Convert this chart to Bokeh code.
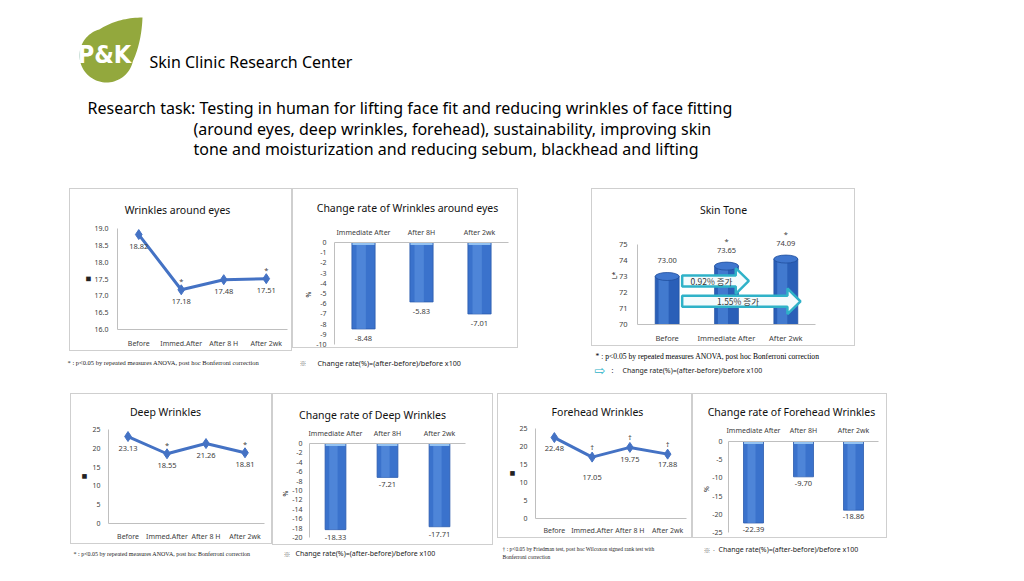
import numpy as np
from bokeh.plotting import figure
from bokeh.models import (Range1d, FactorRange, FixedTicker, LabelSet,
                          ColumnDataSource, Spacer, NumeralTickFormatter)
from bokeh.layouts import row, column
from bokeh.transform import dodge
from bokeh.embed import file_html
from bokeh.resources import INLINE
from bokeh.core.properties import value

# ---------------- data ----------------
line_cats = ["Before", "Immed.After", "After 8 H", "After 2wk"]
rate_cats = ["Immediate After", "After 8H", "After 2wk"]
skin_cats = ["Before", "Immediate After", "After 2wk"]

eye_values = [18.82, 17.18, 17.48, 17.51]
eye_sig = ["", "*", "", "*"]
eye_ticks = [16.0, 16.5, 17.0, 17.5, 18.0, 18.5, 19.0]
eye_rate = [-8.48, -5.83, -7.01]
eye_rate_ticks = [0, -1, -2, -3, -4, -5, -6, -7, -8, -9, -10]

skin_values = [73.00, 73.65, 74.09]
skin_sig = ["", "*", "*"]
skin_ticks = [70, 71, 72, 73, 74, 75]
skin_change = ["0.92% 증가", "1.55% 증가"]

deep_values = [23.13, 18.55, 21.26, 18.81]
deep_sig = ["", "*", "", "*"]
deep_ticks = [0, 5, 10, 15, 20, 25]
deep_rate = [-18.33, -7.21, -17.71]
deep_rate_ticks = [0, -2, -4, -6, -8, -10, -12, -14, -16, -18, -20]

fore_values = [22.48, 17.05, 19.75, 17.88]
fore_sig = ["", "†", "†", "†"]
fore_ticks = [0, 5, 10, 15, 20, 25]
fore_rate = [-22.39, -9.70, -18.86]
fore_rate_ticks = [0, -5, -10, -15, -20, -25]

# ---------------- styles ----------------
SANS = "Noto Sans"
SERIF = "Liberation Serif"
KR = "Noto Sans CJK KR"
TXT = "#404040"
BLUE = "#4472C4"
BAR = "#3A72CC"
BAR_EDGE = "#2C5CAD"
BAR_HI = "#6FA3EA"
BAR_TOP = "#93C2F2"
CYL = "#2A5FB8"
CYL_HI = "#5089DB"
AXIS = "#BFBFBF"
BOX = "#CFCFCF"
TEAL = "#2FB2C8"
BOX_STYLE = {"outline": f"1px solid {BOX}", "outline-offset": "-1px"}


def base_fig(w, h, xr, yr, borders, x_loc="below"):
    l, r, t, b = borders
    p = figure(width=w, height=h, x_range=xr, y_range=yr, x_axis_location=x_loc,
               output_backend="svg", toolbar_location=None, frame_align=False,
               min_border_left=l, min_border_right=r,
               min_border_top=t, min_border_bottom=b)
    p.outline_line_color = None
    p.xgrid.grid_line_color = None
    p.ygrid.grid_line_color = None
    p.background_fill_color = None
    p.border_fill_color = None
    for ax in (p.xaxis[0], p.yaxis[0]):
        ax.major_tick_line_color = None
        ax.minor_tick_line_color = None
        ax.major_tick_out = 0
        ax.major_tick_in = 0
        ax.minor_tick_out = 0
        ax.minor_tick_in = 0
        ax.axis_line_color = AXIS
        ax.major_label_text_font = SANS
        ax.major_label_text_font_size = "7px"
        ax.major_label_text_color = TXT
        ax.axis_label_text_font = SANS
        ax.axis_label_text_font_style = "normal"
        ax.axis_label_text_font_size = "7px"
        ax.axis_label_text_color = "#222222"
    return p


def plain_fig(w, h, x0, x1, y0, y1):
    f = figure(width=w, height=h, x_range=Range1d(x0, x1), y_range=Range1d(y1, y0),
               x_axis_type=None, y_axis_type=None, output_backend="svg",
               toolbar_location=None, min_border=0, frame_align=False)
    f.outline_line_color = None
    f.background_fill_color = None
    f.border_fill_color = None
    return f


def put_text(f, x, y, t, font, size, color="#222222", align="left", style="normal"):
    f.text(x=[x], y=[y], text=[t], text_font=value(font), text_font_size=size,
           text_color=color, text_baseline="middle", text_align=align,
           text_font_style=style)


def boxed(title, w, th, txy, chart):
    tf = plain_fig(w, th, 0, w, 0, th)
    put_text(tf, txy[0], txy[1], title, SANS, "10.5px", "#111111", align="center")
    return column(tf, chart, styles=BOX_STYLE)


def line_panel(w, h, borders, values, sig, ticks, fmt, unit, unit_stand,
               lab_dy, sig_dy, xstand, ystand):
    p = base_fig(w, h, FactorRange(*line_cats), Range1d(ticks[0], ticks[-1]), borders)
    p.yaxis.ticker = FixedTicker(ticks=ticks)
    p.yaxis.formatter = NumeralTickFormatter(format=fmt)
    p.xaxis.major_label_standoff = xstand
    p.yaxis.major_label_standoff = ystand
    p.yaxis.axis_label = unit
    p.yaxis.axis_label_standoff = unit_stand
    p.yaxis.axis_label_text_font = "DejaVu Sans"
    p.yaxis.axis_label_text_font_size = "6px"
    src = ColumnDataSource(dict(x=line_cats, y=values,
                                lab=[f"{v:.2f}" for v in values], sig=sig, dy=lab_dy))
    p.line("x", "y", source=src, line_color=BLUE, line_width=3)
    p.scatter("x", "y", source=src, marker="diamond", size=10,
              fill_color=BLUE, line_color=BLUE)
    p.add_layout(LabelSet(x="x", y="y", text="lab", source=src, y_offset="dy",
                          text_align="center", text_baseline="middle",
                          text_font=value(SANS), text_font_size="7.5px", text_color=TXT))
    p.add_layout(LabelSet(x="x", y="y", text="sig", source=src, y_offset=sig_dy,
                          text_align="center", text_baseline="middle",
                          text_font=value(SANS), text_font_size="7.5px", text_color=TXT))
    return p


def rate_panel(w, h, borders, values, ticks, pad, unit_stand, lab_dy, xstand, ystand):
    p = base_fig(w, h, FactorRange(*rate_cats), Range1d(ticks[-1] - pad, ticks[0]),
                 borders, x_loc="above")
    p.yaxis.ticker = FixedTicker(ticks=ticks)
    p.yaxis.formatter = NumeralTickFormatter(format="0")
    p.yaxis.bounds = (ticks[-1], ticks[0])
    p.xaxis.major_label_standoff = xstand
    p.yaxis.major_label_standoff = ystand
    p.yaxis.axis_label = "%"
    p.yaxis.axis_label_standoff = unit_stand
    src = ColumnDataSource(dict(x=rate_cats, top=values, zero=[0] * len(values),
                                lab=[f"{v:.2f}" for v in values]))
    p.vbar(x="x", top="top", bottom=0, width=0.4, source=src,
           fill_color=BAR, line_color=BAR_EDGE, line_width=0.8)
    p.vbar(x=dodge("x", -0.04, range=p.x_range), top="top", bottom=0, width=0.16,
           source=src, fill_color=BAR_HI, fill_alpha=0.4, line_color=None)
    p.rect(x="x", y="zero", width=0.38, height=5, height_units="screen", source=src,
           fill_color=BAR_TOP, line_color=None)
    p.add_layout(LabelSet(x="x", y="top", text="lab", source=src, y_offset=lab_dy,
                          text_align="center", text_baseline="middle",
                          text_font=value(SANS), text_font_size="7.5px", text_color=TXT))
    return p


def arrow_xy(x0, x1, yc, hl=0.22, bh=0.34, hh=0.8):
    xs = [x0, x1 - hl, x1 - hl, x1, x1 - hl, x1 - hl, x0]
    ys = [yc - bh, yc - bh, yc - hh, yc, yc + hh, yc + bh, yc + bh]
    return xs, ys


def skin_panel():
    p = base_fig(264, 128, FactorRange(*skin_cats),
                 Range1d(skin_ticks[0], skin_ticks[-1] + 1.125), (46, 40, 8, 22))
    p.yaxis.ticker = FixedTicker(ticks=skin_ticks)
    p.yaxis.formatter = NumeralTickFormatter(format="0")
    p.yaxis.bounds = (skin_ticks[0], skin_ticks[-1])
    p.xaxis.major_label_standoff = 8
    p.yaxis.major_label_standoff = 10
    p.xaxis.major_label_text_font_size = "7.5px"
    p.yaxis.major_label_text_font_size = "7.5px"
    p.yaxis.axis_label = "L*"
    p.yaxis.axis_label_standoff = -3
    src = ColumnDataSource(dict(x=skin_cats, top=skin_values,
                                lab=[f"{v:.2f}" for v in skin_values], sig=skin_sig))
    base = skin_ticks[0]
    p.vbar(x="x", top="top", bottom=base, width=0.405, source=src,
           fill_color=CYL, line_color="#1F4E9C", line_width=0.6)
    p.vbar(x=dodge("x", -0.06, range=p.x_range), top="top", bottom=base, width=0.17,
           source=src, fill_color=CYL_HI, fill_alpha=0.65, line_color=None)
    p.ellipse(x="x", y="top", width=0.405, height=8, height_units="screen",
              source=src, fill_color="#3F76CE", line_color="#1F4E9C", line_width=0.8)
    for (x0, x1, yc), txt, tx in [((0.753, 1.876, 72.72), skin_change[0], 1.247),
                                  ((0.753, 2.747, 71.45), skin_change[1], 1.694)]:
        xs, ys = arrow_xy(x0, x1, yc)
        p.patch(xs, ys, fill_color="#F4FBFD", line_color=TEAL, line_width=2.5)
        p.text(x=[tx], y=[yc], text=[txt], text_font=value(KR), text_font_size="8.5px",
               text_align="center", text_baseline="middle", text_color="#333333")
    p.add_layout(LabelSet(x="x", y="top", text="lab", source=src, y_offset=16,
                          text_align="center", text_baseline="middle",
                          text_font=value(SANS), text_font_size="7.5px", text_color=TXT))
    p.add_layout(LabelSet(x="x", y="top", text="sig", source=src, y_offset=25,
                          text_align="center", text_baseline="middle",
                          text_font=value(SANS), text_font_size="7.5px", text_color=TXT))
    return p


# ---------------- header ----------------
hdr = plain_fig(1016, 188, 0, 1016, 0, 188)
cx, cy, r = 106.0, 55.0, 27.0
tipx, tipy = 142.0, 17.0
dist = np.hypot(tipx - cx, tipy - cy)
base_a = np.arctan2(tipy - cy, tipx - cx)
off = np.arccos(r / dist)
a1, a2 = base_a + off, base_a - off + 2 * np.pi
ang = np.linspace(a1, a2, 60)
arc_x, arc_y = cx + r * np.cos(ang), cy + r * np.sin(ang)


def qbez(p0, c, p1, n=20):
    t = np.linspace(0, 1, n)
    return ((1 - t) ** 2 * p0[0] + 2 * (1 - t) * t * c[0] + t ** 2 * p1[0],
            (1 - t) ** 2 * p0[1] + 2 * (1 - t) * t * c[1] + t ** 2 * p1[1])


e1 = (arc_x[-1], arc_y[-1])
s1 = (arc_x[0], arc_y[0])
bx1, by1 = qbez(e1, (118, 17), (tipx, tipy))
bx2, by2 = qbez((tipx, tipy), (141, 42), s1)
hdr.patch(np.concatenate([arc_x, bx1, bx2]), np.concatenate([arc_y, by1, by2]),
          fill_color="#93A83D", line_color=None)
hdr.text(x=[104], y=[54], text=["P&K"],
         text_font=value("'Liberation Sans Narrow', 'DejaVu Sans Condensed', 'Liberation Sans'"),
         text_font_size="25px", text_font_style="bold", text_color="white",
         text_align="center", text_baseline="middle")
put_text(hdr, 149, 61, "Skin Clinic Research Center", SANS, "16px", "#000000")
put_text(hdr, 87, 107, "Research task: Testing in human for lifting face fit and reducing wrinkles of face fitting",
         SANS, "16px", "#000000")
put_text(hdr, 193, 128, "(around eyes, deep wrinkles, forehead), sustainability, improving skin",
         SANS, "16px", "#000000")
put_text(hdr, 193, 148, "tone and moisturization and reducing sebum, blackhead and lifting",
         SANS, "16px", "#000000")

# ---------------- panels ----------------
c1 = line_panel(223, 133, (48, 5, 10, 22), eye_values, eye_sig, eye_ticks, "0.0", "■", 1,
                [-12] * 4, 9, 9, 9)
c2 = rate_panel(226, 132, (42, 10, 26, 2), eye_rate, eye_rate_ticks, 0.2, 0, -10, 6, 8)
c3 = skin_panel()
c4 = line_panel(202, 123, (38, 8, 8, 21), deep_values, deep_sig, deep_ticks, "0", "■", 2,
                [-11.5] * 4, 9, 8, 8)
c5 = rate_panel(221, 122, (37, 28, 20, 2), deep_rate, deep_rate_ticks, 1.28, -1, -7.5, 6, 7)
c6 = line_panel(195, 117, (38, 6, 7, 20), fore_values, fore_sig, fore_ticks, "0", "■", 1,
                [-10.5, -20.5, -12, -10], 10, 7, 8)
c7 = rate_panel(195, 117, (36, 9, 20, 2), fore_rate, fore_rate_ticks, 1.1, -2, -6.5, 7, 6)

b1 = boxed("Wrinkles around eyes", 223, 30, (108, 21), c1)
b2 = boxed("Change rate of Wrinkles around eyes", 226, 28, (115, 19), c2)
b3 = boxed("Skin Tone", 264, 30, (132, 21), c3)
b4 = boxed("Deep Wrinkles", 202, 28, (95, 18), c4)
b5 = boxed("Change rate of Deep Wrinkles", 221, 30, (100, 21), c5)
b6 = boxed("Forehead Wrinkles", 195, 28, (100, 18), c6)
b7 = boxed("Change rate of Forehead Wrinkles", 195, 28, (99, 18), c7)

# ---------------- footnotes ----------------
ANOVA = "* : p<0.05 by repeated measures ANOVA, post hoc Bonferroni correction"
RATE = "Change rate(%)=(after-before)/before x100"
foot1 = plain_fig(1016, 42, 0, 1016, 351, 393)
put_text(foot1, 67, 362, ANOVA, SERIF, "6.5px", "#222222")
put_text(foot1, 299, 362, "※", KR, "7px", "#777777")
put_text(foot1, 317, 362, RATE, SANS, "7.2px", "#222222")
put_text(foot1, 595, 355.5, ANOVA, SERIF, "7.6px", "#000000")
put_text(foot1, 594, 370, "⇨", "DejaVu Sans", "13px", TEAL)
put_text(foot1, 611, 370, ":", SANS, "7px", "#333333")
put_text(foot1, 622, 370, RATE, SANS, "7px", "#222222")

foot2 = plain_fig(1016, 22, 0, 1016, 545, 567)
put_text(foot2, 73, 553, ANOVA, SERIF, "6px", "#222222")
put_text(foot2, 283, 553, "※", KR, "7px", "#777777")
put_text(foot2, 295, 553, RATE, SANS, "7px", "#222222")
put_text(foot2, 502, 548.5, "† : p<0.05 by Friedman test, post hoc Wilcoxon  signed  rank test with",
         SERIF, "5.5px", "#222222")
put_text(foot2, 502, 556, "Bonferroni correction", SERIF, "5.5px", "#222222")
put_text(foot2, 703, 549, "※ ·", KR, "7px", "#777777")
put_text(foot2, 718, 549, RATE, SANS, "7px", "#222222")

layout = column(
    hdr,
    row(Spacer(width=69, height=163), b1, b2, Spacer(width=73, height=163), b3),
    foot1,
    row(Spacer(width=70, height=152), b4, b5, Spacer(width=4, height=152), b6, b7),
    foot2,
)

open("out.html", "w").write(file_html(layout, INLINE))
